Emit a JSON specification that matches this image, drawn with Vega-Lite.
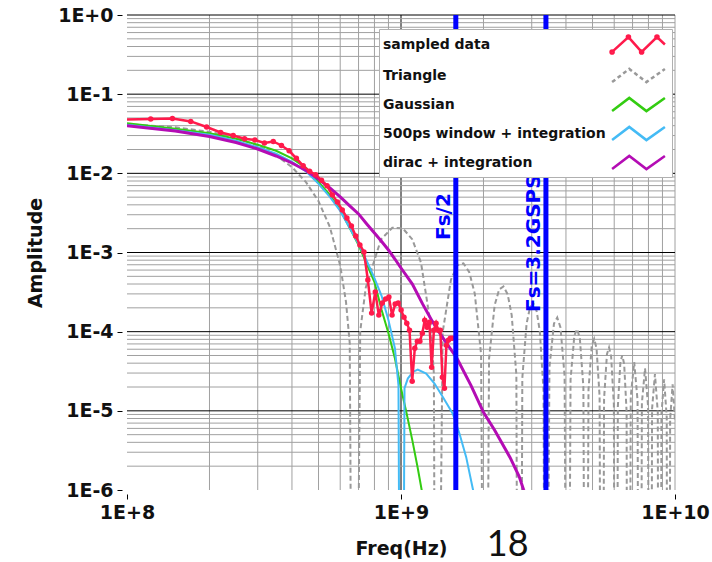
{
  "$schema": "https://vega.github.io/schema/vega-lite/v6.json",
  "width": 548,
  "height": 475,
  "autosize": {"type": "none"},
  "padding": {"left": 127, "top": 15, "right": 37, "bottom": 72},
  "background": "white",
  "config": {"view": {"stroke": null}, "font": "DejaVu Sans"},
  "datasets": {
    "gx": [
      {"f": 2e8, "g": "m"}, {"f": 3e8, "g": "m"}, {"f": 4e8, "g": "m"}, {"f": 5e8, "g": "m"}, {"f": 6e8, "g": "m"}, {"f": 7e8, "g": "m"}, {"f": 8e8, "g": "m"}, {"f": 9e8, "g": "m"},
      {"f": 2e9, "g": "m"}, {"f": 3e9, "g": "m"}, {"f": 4e9, "g": "m"}, {"f": 5e9, "g": "m"}, {"f": 6e9, "g": "m"}, {"f": 7e9, "g": "m"}, {"f": 8e9, "g": "m"}, {"f": 9e9, "g": "m"},
      {"f": 1e10, "g": "m"}, {"f": 1e9, "g": "M"}
    ],
    "gy": [
      {"a": 2e-6, "g": "m"}, {"a": 3e-6, "g": "m"}, {"a": 4e-6, "g": "m"}, {"a": 5e-6, "g": "m"}, {"a": 6e-6, "g": "m"}, {"a": 7e-6, "g": "m"}, {"a": 8e-6, "g": "m"}, {"a": 9e-6, "g": "m"},
      {"a": 2e-5, "g": "m"}, {"a": 3e-5, "g": "m"}, {"a": 4e-5, "g": "m"}, {"a": 5e-5, "g": "m"}, {"a": 6e-5, "g": "m"}, {"a": 7e-5, "g": "m"}, {"a": 8e-5, "g": "m"}, {"a": 9e-5, "g": "m"},
      {"a": 2e-4, "g": "m"}, {"a": 3e-4, "g": "m"}, {"a": 4e-4, "g": "m"}, {"a": 5e-4, "g": "m"}, {"a": 6e-4, "g": "m"}, {"a": 7e-4, "g": "m"}, {"a": 8e-4, "g": "m"}, {"a": 9e-4, "g": "m"},
      {"a": 2e-3, "g": "m"}, {"a": 3e-3, "g": "m"}, {"a": 4e-3, "g": "m"}, {"a": 5e-3, "g": "m"}, {"a": 6e-3, "g": "m"}, {"a": 7e-3, "g": "m"}, {"a": 8e-3, "g": "m"}, {"a": 9e-3, "g": "m"},
      {"a": 2e-2, "g": "m"}, {"a": 3e-2, "g": "m"}, {"a": 4e-2, "g": "m"}, {"a": 5e-2, "g": "m"}, {"a": 6e-2, "g": "m"}, {"a": 7e-2, "g": "m"}, {"a": 8e-2, "g": "m"}, {"a": 9e-2, "g": "m"},
      {"a": 0.2, "g": "m"}, {"a": 0.3, "g": "m"}, {"a": 0.4, "g": "m"}, {"a": 0.5, "g": "m"}, {"a": 0.6, "g": "m"}, {"a": 0.7, "g": "m"}, {"a": 0.8, "g": "m"}, {"a": 0.9, "g": "m"},
      {"a": 1, "g": "M"}, {"a": 0.1, "g": "M"}, {"a": 0.01, "g": "M"}, {"a": 0.001, "g": "M"}, {"a": 0.0001, "g": "M"}, {"a": 0.00001, "g": "M"}
    ],
    "curves": [
      {"s": "Triangle", "f": 1e8, "a": 0.04187}, {"s": "Triangle", "f": 1.5e8, "a": 0.03815}, {"s": "Triangle", "f": 2e8, "a": 0.03344}, {"s": "Triangle", "f": 2.5e8, "a": 0.02807},
      {"s": "Triangle", "f": 3e8, "a": 0.02244}, {"s": "Triangle", "f": 3.5e8, "a": 0.01695}, {"s": "Triangle", "f": 4e8, "a": 0.01197}, {"s": "Triangle", "f": 4.5e8, "a": 0.007745},
      {"s": "Triangle", "f": 5e8, "a": 0.004444}, {"s": "Triangle", "f": 5.5e8, "a": 0.002102}, {"s": "Triangle", "f": 6e8, "a": 0.000685}, {"s": "Triangle", "f": 6.3e8, "a": 0.0002362},
      {"s": "Triangle", "f": 6.5e8, "a": 7.17e-5}, {"s": "Triangle", "f": 6.625e8, "a": 1e-9}, {"s": "Triangle", "f": 6.895e8, "a": 1e-9},
      {"s": "Triangle", "f": 7.098e8, "a": 1.012e-4}, {"s": "Triangle", "f": 7.436e8, "a": 3.598e-4}, {"s": "Triangle", "f": 8.45e8, "a": 1.459e-3}, {"s": "Triangle", "f": 9.295e8, "a": 2.058e-3},
      {"s": "Triangle", "f": 1.014e9, "a": 2.026e-3}, {"s": "Triangle", "f": 1.0985e9, "a": 1.474e-3}, {"s": "Triangle", "f": 1.183e9, "a": 7.443e-4}, {"s": "Triangle", "f": 1.2844e9, "a": 1.206e-4},
      {"s": "Triangle", "f": 1.3182e9, "a": 2.93e-5}, {"s": "Triangle", "f": 1.3317e9, "a": 1e-9}, {"s": "Triangle", "f": 1.3723e9, "a": 1e-9},
      {"s": "Triangle", "f": 1.4196e9, "a": 9.872e-5}, {"s": "Triangle", "f": 1.521e9, "a": 4.503e-4}, {"s": "Triangle", "f": 1.6055e9, "a": 6.899e-4}, {"s": "Triangle", "f": 1.69e9, "a": 7.294e-4},
      {"s": "Triangle", "f": 1.7745e9, "a": 5.648e-4}, {"s": "Triangle", "f": 1.859e9, "a": 3.014e-4}, {"s": "Triangle", "f": 1.9604e9, "a": 5.176e-5},
      {"s": "Triangle", "f": 1.9976e9, "a": 1e-9}, {"s": "Triangle", "f": 2.0584e9, "a": 1e-9},
      {"s": "Triangle", "f": 2.0956e9, "a": 4.53e-5}, {"s": "Triangle", "f": 2.197e9, "a": 2.158e-4}, {"s": "Triangle", "f": 2.2815e9, "a": 3.416e-4}, {"s": "Triangle", "f": 2.366e9, "a": 3.722e-4},
      {"s": "Triangle", "f": 2.4505e9, "a": 2.962e-4}, {"s": "Triangle", "f": 2.535e9, "a": 1.621e-4}, {"s": "Triangle", "f": 2.6364e9, "a": 2.862e-5},
      {"s": "Triangle", "f": 2.6634e9, "a": 1e-9}, {"s": "Triangle", "f": 2.7446e9, "a": 1e-9},
      {"s": "Triangle", "f": 2.7716e9, "a": 2.59e-5}, {"s": "Triangle", "f": 2.873e9, "a": 1.262e-4}, {"s": "Triangle", "f": 2.9575e9, "a": 2.033e-4}, {"s": "Triangle", "f": 3.042e9, "a": 2.251e-4},
      {"s": "Triangle", "f": 3.1265e9, "a": 1.819e-4}, {"s": "Triangle", "f": 3.211e9, "a": 1.01e-4}, {"s": "Triangle", "f": 3.3124e9, "a": 1.813e-5},
      {"s": "Triangle", "f": 3.3462e9, "a": 1e-9}, {"s": "Triangle", "f": 3.4138e9, "a": 1e-9},
      {"s": "Triangle", "f": 3.4814e9, "a": 3.543e-5}, {"s": "Triangle", "f": 3.6166e9, "a": 1.2645e-4}, {"s": "Triangle", "f": 3.718e9, "a": 1.5071e-4}, {"s": "Triangle", "f": 3.8194e9, "a": 1.1338e-4}, {"s": "Triangle", "f": 3.9546e9, "a": 2.746e-5},
      {"s": "Triangle", "f": 4.0154e9, "a": 1e-9}, {"s": "Triangle", "f": 4.0966e9, "a": 1e-9},
      {"s": "Triangle", "f": 4.1574e9, "a": 2.484e-5}, {"s": "Triangle", "f": 4.2926e9, "a": 8.976e-5}, {"s": "Triangle", "f": 4.394e9, "a": 1.0791e-4}, {"s": "Triangle", "f": 4.4954e9, "a": 8.185e-5}, {"s": "Triangle", "f": 4.6306e9, "a": 2.002e-5},
      {"s": "Triangle", "f": 4.6847e9, "a": 1e-9}, {"s": "Triangle", "f": 4.7793e9, "a": 1e-9},
      {"s": "Triangle", "f": 4.8334e9, "a": 1.838e-5}, {"s": "Triangle", "f": 4.9686e9, "a": 6.7e-5}, {"s": "Triangle", "f": 5.07e9, "a": 8.105e-5}, {"s": "Triangle", "f": 5.1714e9, "a": 6.185e-5}, {"s": "Triangle", "f": 5.3066e9, "a": 1.525e-5},
      {"s": "Triangle", "f": 5.3539e9, "a": 1e-9}, {"s": "Triangle", "f": 5.4621e9, "a": 1e-9},
      {"s": "Triangle", "f": 5.5094e9, "a": 1.415e-5}, {"s": "Triangle", "f": 5.6446e9, "a": 5.191e-5}, {"s": "Triangle", "f": 5.746e9, "a": 6.31e-5}, {"s": "Triangle", "f": 5.8474e9, "a": 4.837e-5}, {"s": "Triangle", "f": 5.9826e9, "a": 1.2e-5},
      {"s": "Triangle", "f": 6.0232e9, "a": 1e-9}, {"s": "Triangle", "f": 6.1448e9, "a": 1e-9},
      {"s": "Triangle", "f": 6.1854e9, "a": 1.122e-5}, {"s": "Triangle", "f": 6.3206e9, "a": 4.14e-5}, {"s": "Triangle", "f": 6.422e9, "a": 5.052e-5}, {"s": "Triangle", "f": 6.5234e9, "a": 3.887e-5}, {"s": "Triangle", "f": 6.6586e9, "a": 9.685e-6},
      {"s": "Triangle", "f": 6.6924e9, "a": 1e-9}, {"s": "Triangle", "f": 6.8276e9, "a": 1e-9},
      {"s": "Triangle", "f": 6.8952e9, "a": 1.514e-5}, {"s": "Triangle", "f": 7.098e9, "a": 4.135e-5}, {"s": "Triangle", "f": 7.3008e9, "a": 1.35e-5},
      {"s": "Triangle", "f": 7.3616e9, "a": 1e-9}, {"s": "Triangle", "f": 7.5104e9, "a": 1e-9},
      {"s": "Triangle", "f": 7.5712e9, "a": 1.256e-5}, {"s": "Triangle", "f": 7.774e9, "a": 3.447e-5}, {"s": "Triangle", "f": 7.9768e9, "a": 1.131e-5},
      {"s": "Triangle", "f": 8.0309e9, "a": 1e-9}, {"s": "Triangle", "f": 8.1931e9, "a": 1e-9},
      {"s": "Triangle", "f": 8.2472e9, "a": 1.058e-5}, {"s": "Triangle", "f": 8.45e9, "a": 2.918e-5}, {"s": "Triangle", "f": 8.6528e9, "a": 9.614e-6},
      {"s": "Triangle", "f": 8.7001e9, "a": 1e-9}, {"s": "Triangle", "f": 8.8759e9, "a": 1e-9},
      {"s": "Triangle", "f": 8.9232e9, "a": 9.04e-6}, {"s": "Triangle", "f": 9.126e9, "a": 2.501e-5}, {"s": "Triangle", "f": 9.3288e9, "a": 8.271e-6},
      {"s": "Triangle", "f": 9.3694e9, "a": 1e-9}, {"s": "Triangle", "f": 9.5586e9, "a": 1e-9},
      {"s": "Triangle", "f": 9.5992e9, "a": 7.812e-6}, {"s": "Triangle", "f": 9.802e9, "a": 2.168e-5}, {"s": "Triangle", "f": 1.00048e10, "a": 7.191e-6},

      {"s": "Gaussian", "f": 1e8, "a": 0.04295}, {"s": "Gaussian", "f": 1.5e8, "a": 0.03658}, {"s": "Gaussian", "f": 2e8, "a": 0.03209}, {"s": "Gaussian", "f": 2.5e8, "a": 0.02734},
      {"s": "Gaussian", "f": 3e8, "a": 0.02295}, {"s": "Gaussian", "f": 3.5e8, "a": 0.01927}, {"s": "Gaussian", "f": 4e8, "a": 0.01548}, {"s": "Gaussian", "f": 4.5e8, "a": 0.01174},
      {"s": "Gaussian", "f": 5e8, "a": 0.0078}, {"s": "Gaussian", "f": 5.5e8, "a": 0.005343}, {"s": "Gaussian", "f": 6e8, "a": 0.003451}, {"s": "Gaussian", "f": 6.5e8, "a": 0.002042},
      {"s": "Gaussian", "f": 7e8, "a": 0.001244}, {"s": "Gaussian", "f": 7.5e8, "a": 0.000715}, {"s": "Gaussian", "f": 8e8, "a": 0.000423}, {"s": "Gaussian", "f": 8.5e8, "a": 0.0001872},
      {"s": "Gaussian", "f": 9e8, "a": 9.57e-5}, {"s": "Gaussian", "f": 9.5e8, "a": 4.62e-5}, {"s": "Gaussian", "f": 1e9, "a": 1.927e-5}, {"s": "Gaussian", "f": 1.05e9, "a": 9.03e-6},
      {"s": "Gaussian", "f": 1.1e9, "a": 4.23e-6}, {"s": "Gaussian", "f": 1.15e9, "a": 1.927e-6}, {"s": "Gaussian", "f": 1.2e9, "a": 8.5e-7}, {"s": "Gaussian", "f": 1.25e9, "a": 4e-7},

      {"s": "500ps window + integration", "f": 1e8, "a": 0.04111}, {"s": "500ps window + integration", "f": 1.5e8, "a": 0.03501}, {"s": "500ps window + integration", "f": 2e8, "a": 0.03072},
      {"s": "500ps window + integration", "f": 2.5e8, "a": 0.02579}, {"s": "500ps window + integration", "f": 3e8, "a": 0.02134}, {"s": "500ps window + integration", "f": 3.5e8, "a": 0.01766},
      {"s": "500ps window + integration", "f": 4e8, "a": 0.01398}, {"s": "500ps window + integration", "f": 4.5e8, "a": 0.0106}, {"s": "500ps window + integration", "f": 5e8, "a": 0.007364},
      {"s": "500ps window + integration", "f": 5.5e8, "a": 0.005042}, {"s": "500ps window + integration", "f": 6e8, "a": 0.003352}, {"s": "500ps window + integration", "f": 6.5e8, "a": 0.002042},
      {"s": "500ps window + integration", "f": 7e8, "a": 0.001281}, {"s": "500ps window + integration", "f": 7.5e8, "a": 0.00078}, {"s": "500ps window + integration", "f": 8e8, "a": 0.000476},
      {"s": "500ps window + integration", "f": 8.5e8, "a": 0.0002814}, {"s": "500ps window + integration", "f": 9e8, "a": 0.0001398}, {"s": "500ps window + integration", "f": 9.5e8, "a": 6.18e-5},
      {"s": "500ps window + integration", "f": 9.79e8, "a": 2.1e-5}, {"s": "500ps window + integration", "f": 9.92e8, "a": 1e-9}, {"s": "500ps window + integration", "f": 1.017e9, "a": 1e-9},
      {"s": "500ps window + integration", "f": 1.0299e9, "a": 1.927e-5}, {"s": "500ps window + integration", "f": 1.0588e9, "a": 2.556e-5}, {"s": "500ps window + integration", "f": 1.1043e9, "a": 3.098e-5},
      {"s": "500ps window + integration", "f": 1.1515e9, "a": 3.322e-5}, {"s": "500ps window + integration", "f": 1.2357e9, "a": 2.957e-5}, {"s": "500ps window + integration", "f": 1.3253e9, "a": 2.21e-5},
      {"s": "500ps window + integration", "f": 1.4213e9, "a": 1.495e-5}, {"s": "500ps window + integration", "f": 1.5455e9, "a": 9.22e-6}, {"s": "500ps window + integration", "f": 1.6352e9, "a": 5.14e-6},
      {"s": "500ps window + integration", "f": 1.7295e9, "a": 2.6e-6}, {"s": "500ps window + integration", "f": 1.8284e9, "a": 1.036e-6}, {"s": "500ps window + integration", "f": 1.902e9, "a": 5.4e-7},

      {"s": "dirac + integration", "f": 1e8, "a": 0.03993}, {"s": "dirac + integration", "f": 1.5e8, "a": 0.03425}, {"s": "dirac + integration", "f": 2e8, "a": 0.02919},
      {"s": "dirac + integration", "f": 2.5e8, "a": 0.02452}, {"s": "dirac + integration", "f": 3e8, "a": 0.0203}, {"s": "dirac + integration", "f": 3.5e8, "a": 0.01656},
      {"s": "dirac + integration", "f": 4e8, "a": 0.01351}, {"s": "dirac + integration", "f": 4.5e8, "a": 0.01086}, {"s": "dirac + integration", "f": 5e8, "a": 0.00848},
      {"s": "dirac + integration", "f": 5.5e8, "a": 0.00653}, {"s": "dirac + integration", "f": 6e8, "a": 0.005026}, {"s": "dirac + integration", "f": 6.5e8, "a": 0.003878},
      {"s": "dirac + integration", "f": 7e8, "a": 0.003072}, {"s": "dirac + integration", "f": 7.5e8, "a": 0.002295}, {"s": "dirac + integration", "f": 8e8, "a": 0.001765},
      {"s": "dirac + integration", "f": 8.5e8, "a": 0.001378}, {"s": "dirac + integration", "f": 9e8, "a": 0.001075}, {"s": "dirac + integration", "f": 9.5e8, "a": 0.000827},
      {"s": "dirac + integration", "f": 1e9, "a": 0.000637}, {"s": "dirac + integration", "f": 1.1e9, "a": 0.000399}, {"s": "dirac + integration", "f": 1.2e9, "a": 0.0002229},
      {"s": "dirac + integration", "f": 1.3e9, "a": 0.0001358}, {"s": "dirac + integration", "f": 1.4e9, "a": 9.03e-5}, {"s": "dirac + integration", "f": 1.5e9, "a": 6.37e-5},
      {"s": "dirac + integration", "f": 1.6e9, "a": 4.62e-5}, {"s": "dirac + integration", "f": 1.8e9, "a": 2.1e-5}, {"s": "dirac + integration", "f": 2e9, "a": 9.57e-6},
      {"s": "dirac + integration", "f": 2.2e9, "a": 5.66e-6}, {"s": "dirac + integration", "f": 2.5e9, "a": 2.58e-6}, {"s": "dirac + integration", "f": 2.7e9, "a": 1.48e-6},
      {"s": "dirac + integration", "f": 2.8e9, "a": 1.015e-6}, {"s": "dirac + integration", "f": 2.9e9, "a": 7.4e-7},

      {"s": "sampled data", "f": 9.766e7, "a": 0.0476}, {"s": "sampled data", "f": 1.2207e8, "a": 0.04855}, {"s": "sampled data", "f": 1.4648e8, "a": 0.0494},
      {"s": "sampled data", "f": 1.709e8, "a": 0.04524}, {"s": "sampled data", "f": 1.9531e8, "a": 0.03844}, {"s": "sampled data", "f": 2.1973e8, "a": 0.03284},
      {"s": "sampled data", "f": 2.4414e8, "a": 0.0301}, {"s": "sampled data", "f": 2.6855e8, "a": 0.02734}, {"s": "sampled data", "f": 2.9297e8, "a": 0.02633},
      {"s": "sampled data", "f": 3.1738e8, "a": 0.02412}, {"s": "sampled data", "f": 3.418e8, "a": 0.02527}, {"s": "sampled data", "f": 3.6621e8, "a": 0.02248},
      {"s": "sampled data", "f": 3.9063e8, "a": 0.01927}, {"s": "sampled data", "f": 4.1504e8, "a": 0.01548}, {"s": "sampled data", "f": 4.3945e8, "a": 0.01244},
      {"s": "sampled data", "f": 4.6387e8, "a": 0.0106}, {"s": "sampled data", "f": 4.8828e8, "a": 0.009572}, {"s": "sampled data", "f": 5.127e8, "a": 0.008154},
      {"s": "sampled data", "f": 5.3711e8, "a": 0.006947}, {"s": "sampled data", "f": 5.6152e8, "a": 0.005343}, {"s": "sampled data", "f": 5.8594e8, "a": 0.004356},
      {"s": "sampled data", "f": 6.1035e8, "a": 0.003451}, {"s": "sampled data", "f": 6.3477e8, "a": 0.002734}, {"s": "sampled data", "f": 6.5918e8, "a": 0.002165},
      {"s": "sampled data", "f": 6.8359e8, "a": 0.001618}, {"s": "sampled data", "f": 7.0801e8, "a": 0.001244}, {"s": "sampled data", "f": 7.3242e8, "a": 0.001015},
      {"s": "sampled data", "f": 7.5684e8, "a": 0.000449}, {"s": "sampled data", "f": 7.8125e8, "a": 0.0001715}, {"s": "sampled data", "f": 8.0566e8, "a": 0.0003162},
      {"s": "sampled data", "f": 8.3008e8, "a": 0.0001618}, {"s": "sampled data", "f": 8.5449e8, "a": 0.0002295}, {"s": "sampled data", "f": 8.7891e8, "a": 0.0002578},
      {"s": "sampled data", "f": 9.0332e8, "a": 0.0002734}, {"s": "sampled data", "f": 9.2773e8, "a": 0.0001618}, {"s": "sampled data", "f": 9.5215e8, "a": 0.0002229},
      {"s": "sampled data", "f": 9.7656e8, "a": 0.0002295}, {"s": "sampled data", "f": 1.00098e9, "a": 0.0001872}, {"s": "sampled data", "f": 1.02539e9, "a": 0.0001526},
      {"s": "sampled data", "f": 1.0498e9, "a": 0.0001281}, {"s": "sampled data", "f": 1.07422e9, "a": 0.0001045}, {"s": "sampled data", "f": 1.09863e9, "a": 2.363e-5},
      {"s": "sampled data", "f": 1.12305e9, "a": 6.18e-5}, {"s": "sampled data", "f": 1.14746e9, "a": 7.58e-5}, {"s": "sampled data", "f": 1.17188e9, "a": 7.58e-5},
      {"s": "sampled data", "f": 1.19629e9, "a": 9.57e-5}, {"s": "sampled data", "f": 1.2207e9, "a": 0.0001398}, {"s": "sampled data", "f": 1.24512e9, "a": 0.000114},
      {"s": "sampled data", "f": 1.26953e9, "a": 0.0001319}, {"s": "sampled data", "f": 1.29395e9, "a": 3.554e-5}, {"s": "sampled data", "f": 1.31836e9, "a": 0.0001045},
      {"s": "sampled data", "f": 1.34277e9, "a": 0.0001281}, {"s": "sampled data", "f": 1.36719e9, "a": 0.0001045}, {"s": "sampled data", "f": 1.3916e9, "a": 0.0001045},
      {"s": "sampled data", "f": 1.41602e9, "a": 2.655e-5}, {"s": "sampled data", "f": 1.44043e9, "a": 1.927e-5}, {"s": "sampled data", "f": 1.46484e9, "a": 6.75e-5},
      {"s": "sampled data", "f": 1.48926e9, "a": 7.81e-5}, {"s": "sampled data", "f": 1.51367e9, "a": 8.27e-5}, {"s": "sampled data", "f": 1.53809e9, "a": 8.27e-5}
    ],
    "fs": [{"f": 1.585e9, "a": 1.44e-3, "t": "Fs/2"}, {"f": 3.38e9, "a": 1.77e-4, "t": "Fs=3.2GSPS"}],
    "page": [{"f": 2.45e9, "a": 2e-7, "t": "18"}]
  },
  "layer": [
    {
      "data": {"name": "gx"},
      "mark": {"type": "rule", "strokeWidth": 1},
      "encoding": {
        "x": {"field": "f", "type": "quantitative", "scale": {"type": "log", "domain": [1e8, 1e10], "nice": false},
          "axis": {"title": "Freq(Hz)", "values": [1e8, 1e9, 1e10], "labelExpr": "'1E+' + round(log(datum.value)/LN10)", "offset": 4, "domain": false, "grid": false, "tickSize": 5, "tickColor": "#000", "tickWidth": 1,
            "labelFont": "DejaVu Sans", "labelFontWeight": "bold", "labelFontSize": 19, "labelColor": "#111", "labelPadding": 4, "labelFlush": false, "labelOverlap": false,
            "titleFont": "DejaVu Sans", "titleFontWeight": "bold", "titleFontSize": 19, "titleColor": "#111", "titlePadding": 17}},
        "color": {"condition": {"test": "datum.g === 'M'", "value": "#000000"}, "value": "#a0a0a0"}
      }
    },
    {
      "data": {"name": "gy"},
      "mark": {"type": "rule", "strokeWidth": 1},
      "encoding": {
        "y": {"field": "a", "type": "quantitative", "scale": {"type": "log", "domain": [1e-6, 1], "nice": false},
          "axis": {"title": "Amplitude", "values": [1, 0.1, 0.01, 0.001, 0.0001, 0.00001, 0.000001], "labelExpr": "datum.value >= 0.999 ? '1E+0' : '1E-' + round(-log(datum.value)/LN10)", "offset": 5, "domain": false, "grid": false, "tickSize": 5, "tickColor": "#000", "tickWidth": 1,
            "labelFont": "DejaVu Sans", "labelFontWeight": "bold", "labelFontSize": 19, "labelColor": "#111", "labelPadding": 4, "labelFlush": false, "labelOverlap": false,
            "titleFont": "DejaVu Sans", "titleFontWeight": "bold", "titleFontSize": 19, "titleColor": "#111", "titlePadding": 12}},
        "color": {"condition": {"test": "datum.g === 'M'", "value": "#000000"}, "value": "#a0a0a0"}
      }
    },
    {
      "data": {"name": "curves"},
      "transform": [{"filter": "datum.s === 'Triangle'"}],
      "mark": {"type": "line", "clip": true, "strokeWidth": 2, "strokeDash": [5, 3]},
      "encoding": {
        "x": {"field": "f", "type": "quantitative"},
        "y": {"field": "a", "type": "quantitative"},
        "color": {"field": "s", "type": "nominal",
          "scale": {"domain": ["sampled data", "Triangle", "Gaussian", "500ps window + integration", "dirac + integration"], "range": ["#ff1a4b", "#999999", "#33cc11", "#44bbf5", "#b40cb4"]},
          "legend": {"title": null, "orient": "none", "legendX": 252, "legendY": 14, "padding": 2, "fillColor": "#ffffff", "strokeColor": "#b0b0b0",
            "symbolType": "M-2.2,0.55L-0.77,-0.55L0.66,0.55L2.2,-0.55", "symbolSize": 576, "symbolStrokeWidth": 2.5, "rowPadding": 3,
            "labelOffset": -269, "symbolOffset": 244, "labelFont": "DejaVu Sans", "labelFontWeight": "bold", "labelFontSize": 14, "labelColor": "#111", "labelLimit": 300,
            "encode": {"symbols": {"update": {
              "shape": {"signal": "datum.value === 'sampled data' ? 'M-2.2,0.62L-0.84,-0.62L0.26,0.62L1.54,-0.62L2.2,0M-2.07,0.62A0.13,0.13,0,1,0,-2.33,0.62A0.13,0.13,0,1,0,-2.07,0.62ZM-0.71,-0.62A0.13,0.13,0,1,0,-0.97,-0.62A0.13,0.13,0,1,0,-0.71,-0.62ZM0.39,0.62A0.13,0.13,0,1,0,0.13,0.62A0.13,0.13,0,1,0,0.39,0.62ZM1.67,-0.62A0.13,0.13,0,1,0,1.41,-0.62A0.13,0.13,0,1,0,1.67,-0.62Z' : 'M-2.2,0.55L-0.77,-0.55L0.66,0.55L2.2,-0.55'"},
              "strokeDash": {"signal": "datum.value === 'Triangle' ? [4, 3] : [100, 0]"},
              "fill": {"value": "transparent"},
              "stroke": {"scale": "color", "field": "value"}
            }}}}
        }
      }
    },
    {
      "data": {"name": "curves"},
      "transform": [{"filter": "datum.s === 'Gaussian'"}],
      "mark": {"type": "line", "clip": true, "strokeWidth": 2},
      "encoding": {
        "x": {"field": "f", "type": "quantitative"},
        "y": {"field": "a", "type": "quantitative"},
        "color": {"field": "s", "type": "nominal", "legend": null}
      }
    },
    {
      "data": {"name": "curves"},
      "transform": [{"filter": "datum.s === '500ps window + integration'"}],
      "mark": {"type": "line", "clip": true, "strokeWidth": 2},
      "encoding": {
        "x": {"field": "f", "type": "quantitative"},
        "y": {"field": "a", "type": "quantitative"},
        "color": {"field": "s", "type": "nominal", "legend": null}
      }
    },
    {
      "data": {"name": "curves"},
      "transform": [{"filter": "datum.s === 'dirac + integration'"}],
      "mark": {"type": "line", "clip": true, "strokeWidth": 3},
      "encoding": {
        "x": {"field": "f", "type": "quantitative"},
        "y": {"field": "a", "type": "quantitative"},
        "color": {"field": "s", "type": "nominal", "legend": null}
      }
    },
    {
      "data": {"name": "curves"},
      "transform": [{"filter": "datum.s === 'sampled data'"}],
      "mark": {"type": "line", "clip": true, "strokeWidth": 2.5},
      "encoding": {
        "x": {"field": "f", "type": "quantitative"},
        "y": {"field": "a", "type": "quantitative"},
        "color": {"field": "s", "type": "nominal", "legend": null}
      }
    },
    {
      "data": {"name": "curves"},
      "transform": [{"filter": "datum.s === 'sampled data' && datum.f >= 1e8"}],
      "mark": {"type": "point", "filled": true, "size": 30, "opacity": 1, "color": "#ff1a4b"},
      "encoding": {
        "x": {"field": "f", "type": "quantitative"},
        "y": {"field": "a", "type": "quantitative"}
      }
    },
    {
      "data": {"name": "fs"},
      "mark": {"type": "rule", "strokeWidth": 5, "color": "#0000ff"},
      "encoding": {
        "x": {"field": "f", "type": "quantitative"}
      }
    },
    {
      "data": {"name": "fs"},
      "mark": {"type": "text", "angle": 270, "align": "left", "baseline": "alphabetic", "dy": -6, "font": "DejaVu Sans", "fontWeight": "bold", "fontSize": 20, "color": "#0000ff"},
      "encoding": {
        "x": {"field": "f", "type": "quantitative"},
        "y": {"field": "a", "type": "quantitative"},
        "text": {"field": "t"}
      }
    },
    {
      "data": {"name": "page"},
      "mark": {"type": "text", "align": "center", "baseline": "middle", "font": "Lato", "fontSize": 36, "color": "#111"},
      "encoding": {
        "x": {"field": "f", "type": "quantitative"},
        "y": {"field": "a", "type": "quantitative"},
        "text": {"field": "t"}
      }
    }
  ]
}
